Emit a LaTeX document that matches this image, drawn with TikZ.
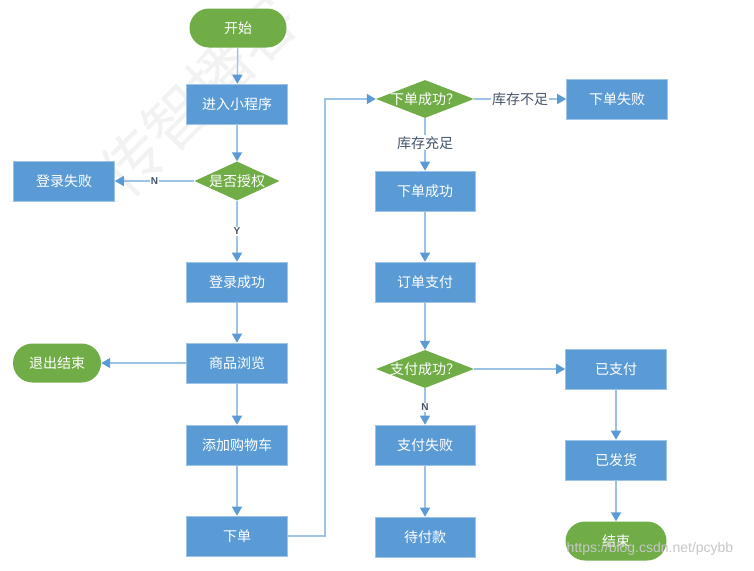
\documentclass[tikz,border=0pt]{standalone}
\usepackage{fontspec}
\newfontfamily\cjk{Noto Sans CJK SC}
\setmainfont{Liberation Sans}
\usetikzlibrary{arrows.meta,shapes.geometric}
\definecolor{boxblue}{HTML}{5B9BD5}
\definecolor{boxedge}{HTML}{9DC3E6}
\definecolor{termgreen}{HTML}{70AD47}
\definecolor{linkblue}{HTML}{9DC3E6}
\definecolor{tipblue}{HTML}{5B9BD5}
\definecolor{labelc}{HTML}{44546A}
\tikzset{
  x=1pt, y=-1pt,
  procbox/.style={rectangle, fill=boxblue, draw=boxedge, line width=0.6pt, minimum width=101pt, minimum height=40pt, inner sep=0pt, text=white, font=\cjk\fontsize{14}{14}\selectfont},
  termbox/.style={rectangle, rounded corners=19.5pt, fill=termgreen, draw=none, minimum width=98pt, minimum height=39pt, inner sep=0pt, text=white, font=\cjk\fontsize{14}{14}\selectfont},
  decbox/.style={diamond, fill=termgreen, draw=none, minimum width=98pt, minimum height=38pt, inner sep=0pt, text=white, font=\cjk\fontsize{14}{14}\selectfont},
  link/.style={draw=linkblue, line width=1.4pt, -{Triangle[length=9pt,width=10pt,color=tipblue]}},
  lab/.style={fill=white, inner sep=1pt, text=labelc, font=\cjk\fontsize{14}{14}\selectfont},
  yn/.style={fill=white, inner sep=1pt, text=labelc, font=\bfseries\fontsize{10}{10}\selectfont},
}
\begin{document}
\begin{tikzpicture}
\useasboundingbox (0,0) rectangle (754,570);
\fill[white] (0,0) rectangle (754,570);
% faint watermark
\node[rotate=45, text=black!5, font=\cjk\fontsize{62}{62}\selectfont, inner sep=0pt] (wm) at (198,96) {传智播客};
% left column
\node[termbox, minimum width=97pt] (start) at (238,28) {开始};
\node[procbox] (enter) at (237,104) {进入小程序};
\node[decbox, minimum width=85pt, minimum height=39pt] (auth) at (237,181) {\makebox[0pt]{是否授权}};
\node[procbox] (lfail) at (64,181) {登录失败};
\node[procbox] (lok) at (237,282) {登录成功};
\node[procbox] (browse) at (237,363) {商品浏览};
\node[termbox, minimum width=88pt] (quit) at (57,363) {退出结束};
\node[procbox] (cart) at (237,445) {添加购物车};
\node[procbox] (order) at (237,536) {下单};
% middle column
\node[decbox] (osucc) at (425,99) {\makebox[0pt]{下单成功？}};
\node[procbox] (ofail) at (617,99) {下单失败};
\node[procbox, minimum width=100pt] (ook) at (425,191) {下单成功};
\node[procbox, minimum width=100pt] (pay) at (425,282) {订单支付};
\node[decbox] (psucc) at (425,369) {\makebox[0pt]{支付成功？}};
\node[procbox, minimum width=100pt] (pfail) at (425,445) {支付失败};
\node[procbox, minimum width=100pt] (wait) at (425,537) {待付款};
% right column
\node[procbox] (paid) at (616,369) {已支付};
\node[procbox] (ship) at (616,460) {已发货};
\node[termbox, minimum width=101pt] (fin) at (616,541) {结束};
% connectors
\draw[link] (start) -- (enter);
\draw[link] (enter) -- (auth);
\draw[link] (auth) -- node[yn] (nl) {N} (lfail);
\draw[link] (auth) -- node[yn] (yl) {Y} (lok);
\draw[link] (lok) -- (browse);
\draw[link] (browse) -- (quit);
\draw[link] (browse) -- (cart);
\draw[link] (cart) -- (order);
\coordinate (c1) at (325,536);
\coordinate (c2) at (325,99);
\draw[link] (order.east) -- (c1) -- (c2) -- (osucc.west);
\draw[link] (osucc) -- node[lab] (l1) {库存不足} (ofail);
\draw[link] (osucc) -- node[lab, pos=0.47] (l2) {库存充足} (ook);
\draw[link] (ook) -- (pay);
\draw[link] (pay) -- (psucc);
\draw[link] (psucc) -- (paid);
\draw[link] (psucc) -- node[yn, pos=0.52] (nl2) {N} (pfail);
\draw[link] (pfail) -- (wait);
\draw[link] (paid) -- (ship);
\draw[link] (ship) -- (fin);
% csdn watermark
\node[text=black!22, font=\fontsize{14}{14}\selectfont, inner sep=0pt] (csdn) at (650,549) {https://blog.csdn.net/pcybb};
\end{tikzpicture}
\end{document}
